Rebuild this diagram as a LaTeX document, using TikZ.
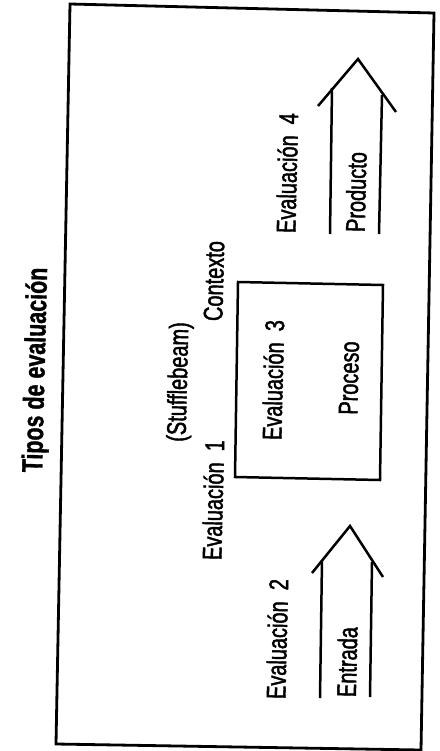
\documentclass[tikz,border=0pt]{standalone}
\usepackage{fontspec}
\newfontfamily\cond{Liberation Sans}[FakeStretch=0.74, FakeBold=1.6]
\newfontfamily\condtitle{Liberation Sans}[FakeStretch=0.74, FakeBold=1.2]
\begin{document}
\begin{tikzpicture}[x=1pt,y=-1pt,
  lbl/.style={font=\cond\fontsize{27}{29}\selectfont, inner sep=0pt, rotate=88.6, anchor=center},
  ttl/.style={font=\condtitle\bfseries\fontsize{29}{31}\selectfont, inner sep=0pt, rotate=88.6, anchor=center},
  frm/.style={line width=2.8pt, line join=miter},
  ln/.style={line width=2.5pt, line join=miter}]
\useasboundingbox (0,0) rectangle (439,751);
% outer frame
\draw[frm] (70,4) -- (434,13) -- (421,750) -- (56,744) -- cycle;
% title
\node[ttl] (title) at (37,370) {Tipos de evaluación};
% central labels
\node[lbl] (stuff) at (180,382) {(Stufflebeam)};
\node[lbl] (ctx) at (214,281) {Contexto};
\node[lbl] (ev1) at (213,500) {Evaluación\ \ 1};
% inner box
\draw[ln] (238,282) -- (383,285) -- (380,480) -- (235,477) -- cycle;
\node[lbl] (ev3) at (273,380) {Evaluación\ \ 3};
\node[lbl] (proc) at (349,378) {Proceso};
% arrow 4 (Producto)
\coordinate (t4) at (358,59);
\coordinate (l4) at (318,106);
\coordinate (r4) at (396,112);
\draw[ln] (l4) -- (t4) -- (r4);
\draw[ln] (332,88) -- (330,234);
\draw[ln] (382,95) -- (379,234);
\node[lbl] (ev4) at (287,173) {Evaluación\ \ 4};
\node[lbl] (prod) at (356,192) {Producto};
% arrow 2 (Entrada)
\coordinate (t2) at (350,526);
\coordinate (l2) at (312,573);
\coordinate (r2) at (383,577);
\draw[ln] (l2) -- (t2) -- (r2);
\draw[ln] (322,560) -- (320,698);
\draw[ln] (372,562) -- (370,697);
\node[lbl] (ev2) at (277,639) {Evaluación\ \ 2};
\node[lbl] (ent) at (347,662) {Entrada};
\end{tikzpicture}
\end{document}
